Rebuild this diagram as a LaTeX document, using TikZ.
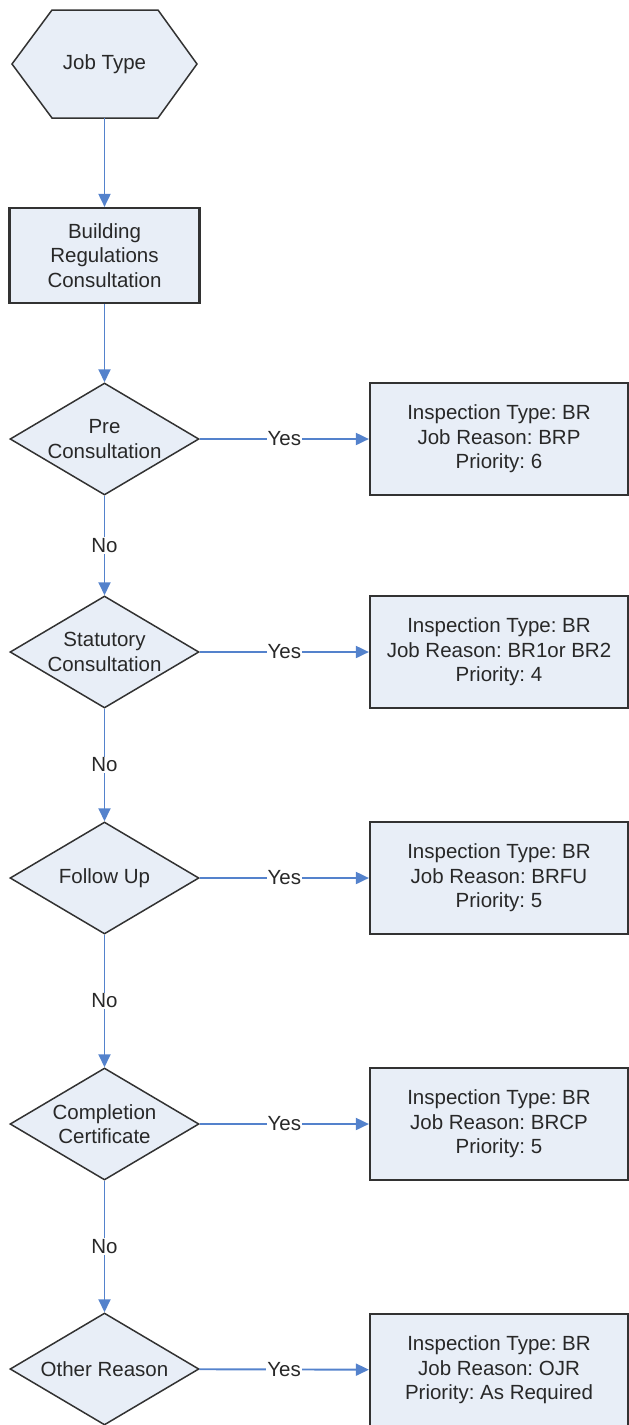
\documentclass[tikz,border=0pt]{standalone}
\usepackage{fontspec}
\setmainfont{Liberation Sans}
\usetikzlibrary{arrows.meta,shapes.geometric}
\definecolor{shapefill}{RGB}{232,238,247}
\definecolor{edgegray}{RGB}{50,50,50}
\definecolor{flowblue}{RGB}{84,130,204}
\definecolor{textgray}{RGB}{40,40,40}
\frenchspacing
\begin{document}
\begin{tikzpicture}[x=1pt,y=-1pt,
  font=\fontsize{20.5}{24.5}\selectfont, text=textgray,
  box/.style={rectangle, draw=edgegray, line width=2.2pt, fill=shapefill,
    inner sep=0pt, align=center},
  outcome/.style={box, minimum width=258pt, minimum height=112pt},
  decision/.style={diamond, draw=edgegray, line width=1.5pt, fill=shapefill,
    inner sep=0pt, minimum width=189pt, minimum height=112pt},
  hexline/.style={draw=edgegray, line width=1.5pt, fill=shapefill},
  flow/.style={draw=flowblue, line width=1.9pt,
    -{Triangle[length=13pt,width=12pt]}},
  tag/.style={fill=white, inner sep=1pt}]
\useasboundingbox (0,0) rectangle (629,1425);

% start: hexagon outline with its caption node
\draw[hexline] (52,10) -- (158,10) -- (197,64) -- (158,118) -- (52,118)
  -- (12,64) -- cycle;
\node[inner sep=0pt, minimum width=106pt, minimum height=108pt]
  (jobtype) at (104.5,64) {Job Type};

\node[box, minimum width=190pt, minimum height=95pt] (brc) at (104.5,255.5)
  {Building\\Regulations\\Consultation};

% decisions
\node[decision, label={[align=center]center:Pre\\Consultation}] (pre) at (104.5,439) {};
\node[decision, label={[align=center]center:Statutory\\Consultation}] (stat) at (104.5,652) {};
\node[decision, label={[align=center]center:Follow Up}] (follow) at (104.5,878) {};
\node[decision, label={[align=center]center:Completion\\Certificate}] (compl) at (104.5,1124) {};
\node[decision, label={[align=center]center:Other Reason}] (other) at (104.5,1369) {};

% outcomes
\node[outcome] (r1) at (499,439) {Inspection Type: BR\\Job Reason: BRP\\Priority: 6};
\node[outcome] (r2) at (499,652) {Inspection Type: BR\\Job Reason: BR1or BR2\\Priority: 4};
\node[outcome] (r3) at (499,878) {Inspection Type: BR\\Job Reason: BRFU\\Priority: 5};
\node[outcome] (r4) at (499,1124) {Inspection Type: BR\\Job Reason: BRCP\\Priority: 5};
\node[outcome] (r5) at (499,1370) {Inspection Type: BR\\Job Reason: OJR\\Priority: As Required};

% connectors
\draw[flow] (jobtype) -- (brc);
\draw[flow] (brc) -- (pre);
\draw[flow] (pre) -- node[tag]{Yes} (r1);
\draw[flow] (pre) -- node[tag]{No} (stat);
\draw[flow] (stat) -- node[tag]{Yes} (r2);
\draw[flow] (stat) -- node[tag]{No} (follow);
\draw[flow] (follow) -- node[tag]{Yes} (r3);
\draw[flow] (follow) -- node[tag]{No} (compl);
\draw[flow] (compl) -- node[tag]{Yes} (r4);
\draw[flow] (compl) -- node[tag]{No} (other);
\draw[flow] (other) -- node[tag]{Yes} (r5);
\end{tikzpicture}
\end{document}
